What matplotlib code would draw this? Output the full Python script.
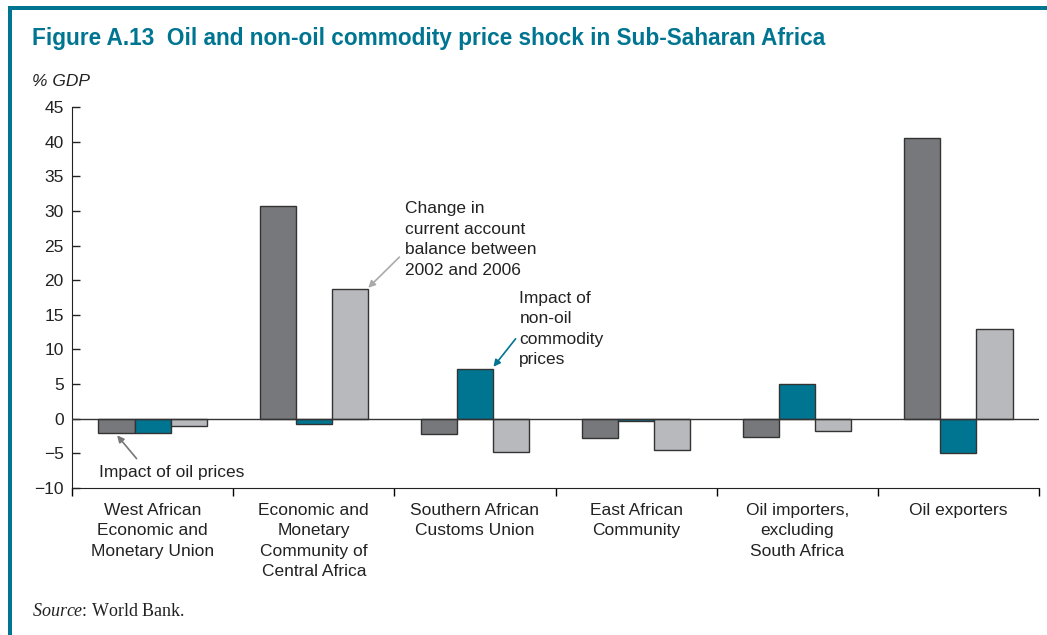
import matplotlib
matplotlib.use("Agg")
import matplotlib.pyplot as plt
import numpy as np
from matplotlib.patches import Rectangle

plt.rcParams['font.family'] = ['Liberation Sans', 'DejaVu Sans']
plt.rcParams['mathtext.fontset'] = 'custom'
plt.rcParams['mathtext.rm'] = 'Liberation Serif'
plt.rcParams['mathtext.it'] = 'Liberation Serif:italic'

groups = ['West African\nEconomic and\nMonetary Union',
          'Economic and\nMonetary\nCommunity of\nCentral Africa',
          'Southern African\nCustoms Union',
          'East African\nCommunity',
          'Oil importers,\nexcluding\nSouth Africa',
          'Oil exporters']
oil_impact = [-2.0, 30.7, -2.25, -2.8, -2.7, 40.5]
nonoil_impact = [-2.1, -0.7, 7.2, -0.4, 5.0, -5.0]
ca_change = [-1.0, 18.7, -4.8, -4.5, -1.7, 13.0]
yticks = [-10, -5, 0, 5, 10, 15, 20, 25, 30, 35, 40, 45]

teal = '#007591'
dark = '#77787b'
light = '#b8b9bc'
fs = 12.5
ls = 1.46

W, H = 1047, 635
fig = plt.figure(figsize=(W / 100, H / 100), dpi=100)
ax = fig.add_axes([72 / W, 1 - 488 / H, (1039 - 72) / W, (488 - 107) / H])

x = np.arange(len(groups))
bw = 0.224
for off, vals, col in [(-bw, oil_impact, dark), (0, nonoil_impact, teal), (bw, ca_change, light)]:
    ax.bar(x + off, vals, bw, color=col, edgecolor='#333333', linewidth=1.0, zorder=2)

ax.axhline(0, color='#333333', lw=1.0, zorder=3)
ax.set_xlim(-0.5, 5.5)
ax.set_ylim(-10, 45)
ax.set_yticks(yticks)
ax.set_yticklabels([str(v).replace('-', '\u2212') for v in yticks])
ax.tick_params(axis='y', direction='in', length=6, width=1, labelsize=fs, pad=6, colors='#222222')
ax.set_xticks(np.arange(-0.5, 6.0, 1.0))
ax.set_xticklabels([])
ax.tick_params(axis='x', direction='out', length=6, width=1)
for lab, xi in zip(groups, x):
    ax.text(xi, -12.1, lab, ha='center', va='top', fontsize=fs, linespacing=ls,
            color='#222222')
for s in ['top', 'right']:
    ax.spines[s].set_visible(False)
ax.spines['left'].set_color('#222222')
ax.spines['bottom'].set_color('#222222')

ax.annotate('Impact of oil prices', xy=(-0.22, -2.4), xytext=(-0.33, -7.7),
            fontsize=fs, color='#222222', va='center', ha='left',
            arrowprops=dict(arrowstyle='-|>', color='#777777', lw=1.2,
                            shrinkA=3, shrinkB=0, mutation_scale=10, relpos=(0.29, 1.0)),
            annotation_clip=False)
ax.annotate('Change in\ncurrent account\nbalance between\n2002 and 2006',
            xy=(1.338, 18.9), xytext=(1.568, 31.4), fontsize=fs, color='#222222',
            va='top', ha='left', linespacing=ls,
            arrowprops=dict(arrowstyle='-|>', color='#aaaaaa', lw=1.2,
                            shrinkA=0, shrinkB=0, mutation_scale=10, relpos=(-0.045, 0.27)))
ax.annotate('Impact of\nnon-oil\ncommodity\nprices',
            xy=(2.115, 7.5), xytext=(2.276, 18.5), fontsize=fs, color='#222222',
            va='top', ha='left', linespacing=ls,
            arrowprops=dict(arrowstyle='-|>', color=teal, lw=1.2,
                            shrinkA=0, shrinkB=0, mutation_scale=10, relpos=(-0.045, 0.37)))

fig.text(32 / W, 1 - 45 / H, 'Figure A.13  Oil and non-oil commodity price shock in Sub-Saharan Africa',
         fontsize=16.3, fontweight='bold', color=teal, va='baseline', ha='left')
fig.text(32 / W, 1 - 82 / H, '% GDP', fontsize=fs, style='italic', color='#222222',
         va='center', ha='left')
fig.text(32 / W, 1 - 612 / H, r'$\mathit{Source}$: World Bank.', fontsize=13, color='#222222',
         va='center', ha='left', family='Liberation Serif')

fig.add_artist(Rectangle((8 / W, 0), 3.5 / W, 1 - 7 / H, transform=fig.transFigure,
                         color=teal, lw=0))
fig.add_artist(Rectangle((8 / W, 1 - 10 / H), 1 - 8 / W, 3.5 / H, transform=fig.transFigure,
                         color=teal, lw=0))

fig.savefig('out.png', dpi=100)
